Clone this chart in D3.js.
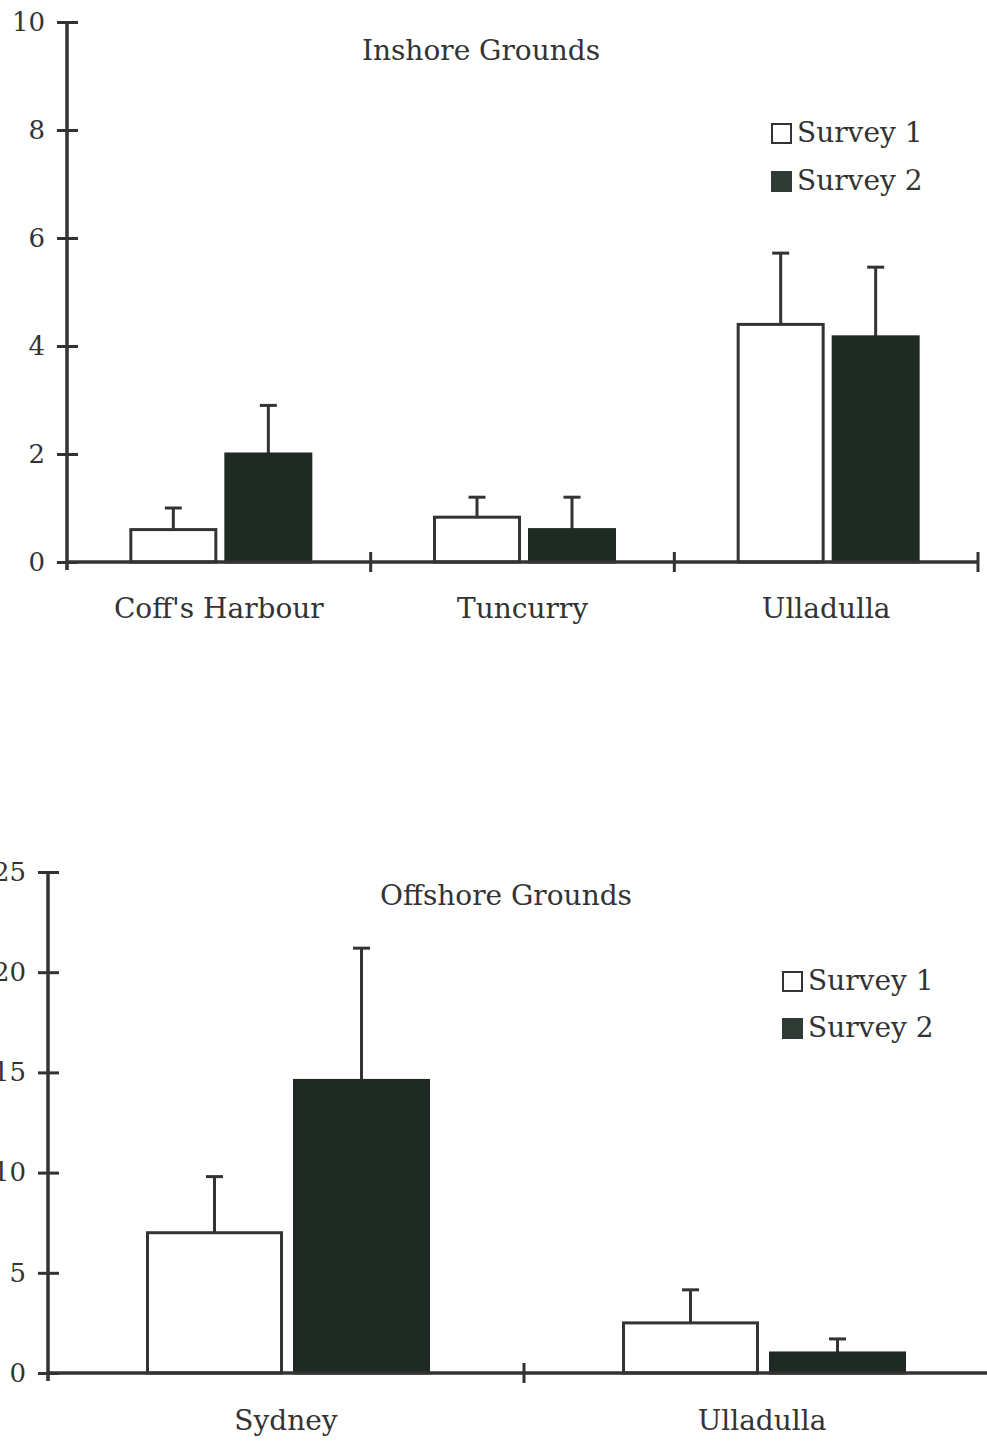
<!DOCTYPE html>
<html>
<head>
<meta charset="utf-8">
<script src="https://cdn.jsdelivr.net/npm/d3@7"></script>
<style>
  html, body { margin: 0; padding: 0; background: #fff; }
  svg { display: block; }
  text { font-family: "DejaVu Serif", serif; fill: #333; }
</style>
</head>
<body>
<svg id="chart" width="987" height="1442"></svg>
<script>
// Survey series
const seriesNames = ["Survey 1", "Survey 2"];

// Inshore grounds
const inshoreSites = ["Coff's Harbour", "Tuncurry", "Ulladulla"];
const inshoreSurvey1 = [0.6, 0.83, 4.4];
const inshoreSurvey1Err = [0.4, 0.37, 1.32];
const inshoreSurvey2 = [2.0, 0.6, 4.17];
const inshoreSurvey2Err = [0.9, 0.6, 1.29];
const inshoreTicks = [0, 2, 4, 6, 8, 10];

// Offshore grounds
const offshoreSites = ["Sydney", "Ulladulla"];
const offshoreSurvey1 = [7.0, 2.5];
const offshoreSurvey1Err = [2.8, 1.65];
const offshoreSurvey2 = [14.6, 1.0];
const offshoreSurvey2Err = [6.6, 0.7];
const offshoreTicks = [0, 5, 10, 15, 20, 25];

const INK = "#333";
const DARK = "#1f2a25";

const svg = d3.select("#chart");

function drawPanel(p) {
  const g = svg.append("g");
  const y = d3.scaleLinear().domain(p.yDomain).range([p.y0, p.y1]);
  const x0 = d3.scaleBand().domain(p.sites).range([p.xLeft, p.xRight])
    .paddingInner(p.groupPad).paddingOuter(p.groupPad / 2);
  const x1 = d3.scaleBand().domain(seriesNames).range([0, x0.bandwidth()])
    .paddingInner(p.barPad);

  const rows = [];
  p.sites.forEach((s, i) => {
    rows.push({ site: s, series: seriesNames[0], v: p.s1[i], e: p.e1[i] });
    rows.push({ site: s, series: seriesNames[1], v: p.s2[i], e: p.e2[i] });
  });

  const barX = d => x0(d.site) + x1(d.series) + p.shift;

  // error bars (drawn first so the bar outline sits on top)
  const eb = g.append("g").attr("stroke", INK).attr("stroke-width", 3);
  rows.forEach(d => {
    const cx = barX(d) + x1.bandwidth() / 2;
    eb.append("line").attr("x1", cx).attr("x2", cx)
      .attr("y1", y(d.v)).attr("y2", y(d.v + d.e));
    eb.append("line").attr("x1", cx - 8.5).attr("x2", cx + 8.5)
      .attr("y1", y(d.v + d.e)).attr("y2", y(d.v + d.e));
  });

  // bars
  g.append("g").selectAll("rect").data(rows).join("rect")
    .attr("x", barX)
    .attr("y", d => y(d.v))
    .attr("width", x1.bandwidth())
    .attr("height", d => y(0) - y(d.v))
    .attr("fill", d => d.series === seriesNames[0] ? "#fff" : DARK)
    .attr("stroke", d => d.series === seriesNames[0] ? INK : DARK)
    .attr("stroke-width", 3);

  // y axis
  const ya = g.append("g").attr("transform", `translate(${p.xLeft},0)`)
    .call(d3.axisLeft(y).tickValues(p.yTicks).tickSize(10).tickPadding(12));
  ya.select(".domain").attr("stroke", INK).attr("stroke-width", 3.5)
    .attr("d", `M0,${p.y1}V${p.y0 + 8}`);
  ya.selectAll(".tick line").attr("stroke", INK).attr("stroke-width", 3)
    .attr("x1", 11).attr("x2", -10);
  ya.selectAll(".tick text").attr("font-size", 26).attr("fill", INK)
    .style("font-family", "DejaVu Serif, serif");

  // x axis baseline with separators at site boundaries
  const xa = g.append("g").attr("stroke", INK).attr("stroke-width", 3.5);
  xa.append("line").attr("x1", p.xLeft).attr("x2", p.xRight)
    .attr("y1", y(0)).attr("y2", y(0));
  const bounds = p.sites.map(s => x0(s) - x0.step() * x0.paddingOuter() + x0.step());
  bounds.forEach(b => {
    xa.append("line").attr("x1", b).attr("x2", b)
      .attr("y1", y(0) - 10).attr("y2", y(0) + 10).attr("stroke-width", 3);
  });

  // category labels
  const xl = g.append("g").attr("transform", `translate(0,${y(0)})`)
    .call(d3.axisBottom(x0).tickSize(0).tickPadding(p.labelPad));
  xl.select(".domain").remove();
  xl.selectAll(".tick text").attr("font-size", 28).attr("fill", INK)
    .style("font-family", "DejaVu Serif, serif");

  // title
  g.append("text").attr("x", p.titleX).attr("y", p.titleY)
    .attr("text-anchor", "middle").attr("font-size", 28).text(p.title);

  // legend
  const lg = g.append("g").attr("transform", `translate(${p.legX},${p.legY})`);
  seriesNames.forEach((s, i) => {
    const row = lg.append("g").attr("transform", `translate(0,${i * p.legGap})`);
    row.append("rect").attr("x", 1).attr("y", 1).attr("width", 19).attr("height", 19)
      .attr("fill", i === 0 ? "#fff" : "#303a35")
      .attr("stroke", i === 0 ? INK : "#303a35").attr("stroke-width", 2);
    row.append("text").attr("x", 26).attr("y", 19).attr("font-size", 28).text(s);
  });
}

drawPanel({
  sites: inshoreSites, s1: inshoreSurvey1, e1: inshoreSurvey1Err,
  s2: inshoreSurvey2, e2: inshoreSurvey2Err,
  yDomain: [0, 10], yTicks: inshoreTicks, y0: 562, y1: 22,
  xLeft: 67, xRight: 978, groupPad: 1 - 180 / 303.67, barPad: 10 / 95, shift: 2,
  labelPad: 36, title: "Inshore Grounds", titleX: 481, titleY: 60,
  legX: 771, legY: 123, legGap: 48
});

drawPanel({
  sites: offshoreSites, s1: offshoreSurvey1, e1: offshoreSurvey1Err,
  s2: offshoreSurvey2, e2: offshoreSurvey2Err,
  yDomain: [0, 25], yTicks: offshoreTicks, y0: 1373, y1: 872,
  xLeft: 48, xRight: 1000, groupPad: 1 - 281 / 476, barPad: 13 / 147, shift: 2,
  labelPad: 37, title: "Offshore Grounds", titleX: 506, titleY: 905,
  legX: 782, legY: 971, legGap: 47
});
</script>
</body>
</html>
